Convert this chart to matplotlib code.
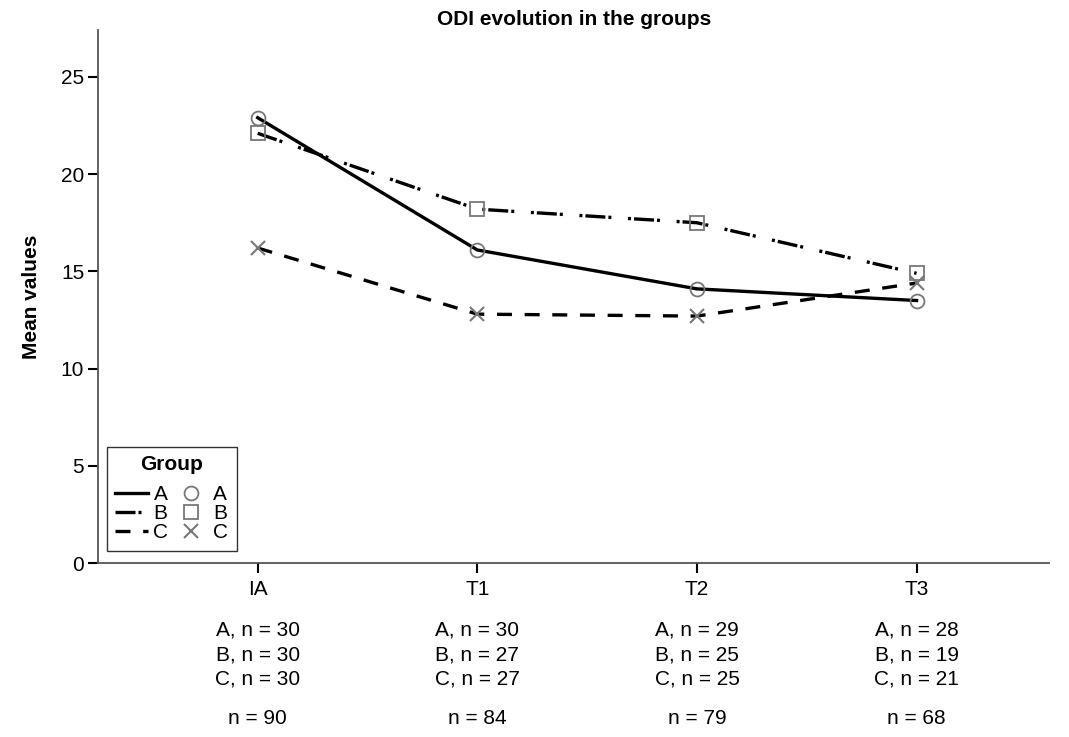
import matplotlib
matplotlib.use("Agg")
import matplotlib.pyplot as plt
from matplotlib.lines import Line2D
import matplotlib.transforms as mtransforms

plt.rcParams['font.family'] = ['Liberation Sans', 'DejaVu Sans']

categories = ["IA", "T1", "T2", "T3"]
group_a = [22.9, 16.1, 14.1, 13.5]
group_b = [22.1, 18.2, 17.5, 14.9]
group_c = [16.2, 12.8, 12.7, 14.4]
n_a = [30, 30, 29, 28]
n_b = [30, 27, 25, 19]
n_c = [30, 27, 25, 21]
n_total = [90, 84, 79, 68]
yticks = [0, 5, 10, 15, 20, 25]

fig = plt.figure(figsize=(10.69, 7.37), dpi=100)
ax = fig.add_axes([0.0917, 0.236, 0.890, 0.723])

x = list(range(len(categories)))
mcol = '#777777'
ls_b = (0, (6, 0.9, 0.9, 5.0, 0.9, 0.9))
ls_c = (0, (4.5, 3.8))
fs = 15

ax.plot(x, group_a, color='black', lw=2.4, ls='-', zorder=3)
ax.plot(x, group_b, color='black', lw=2.4, ls=ls_b, zorder=3)
ax.plot(x, group_c, color='black', lw=2.4, ls=ls_c, zorder=3)
ax.plot(x, group_a, ls='none', marker='o', ms=10, mfc='none', mec=mcol, mew=1.3, zorder=4)
ax.plot(x, group_b, ls='none', marker='s', ms=10, mfc='none', mec=mcol, mew=1.3, zorder=4)
ax.plot(x, group_c, ls='none', marker='x', ms=10, mec=mcol, mew=1.5, zorder=4)

ax.set_xlim(-0.727, 3.605)
ax.set_ylim(0, 27.4)
ax.set_xticks(x)
ax.set_xticklabels(categories)
ax.set_yticks(yticks)
ax.tick_params(axis='both', labelsize=fs, length=7, width=1.5, direction='out', colors='black')
ax.tick_params(axis='x', pad=5)
ax.tick_params(axis='y', pad=3)
for s in ['top', 'right']:
    ax.spines[s].set_visible(False)
for s in ['left', 'bottom']:
    ax.spines[s].set_color('#555555')
    ax.spines[s].set_linewidth(1.3)

ax.set_ylabel('Mean values', fontsize=fs, fontweight='bold', labelpad=14)
ax.set_title('ODI evolution in the groups', fontsize=fs, fontweight='bold', pad=4)

trans = mtransforms.blended_transform_factory(ax.transData, fig.transFigure)
for i in x:
    ax.text(i, 1 - 630/737, f"A, n = {n_a[i]}", transform=trans, ha='center', va='center', fontsize=fs)
    ax.text(i, 1 - 655/737, f"B, n = {n_b[i]}", transform=trans, ha='center', va='center', fontsize=fs)
    ax.text(i, 1 - 679/737, f"C, n = {n_c[i]}", transform=trans, ha='center', va='center', fontsize=fs)
    ax.text(i, 1 - 718/737, f"n = {n_total[i]}", transform=trans, ha='center', va='center', fontsize=fs)

handles = [
    Line2D([], [], color='black', lw=2.4, ls='-'),
    Line2D([], [], color='black', lw=2.4, ls=ls_b),
    Line2D([], [], color='black', lw=2.4, ls=ls_c),
    Line2D([], [], ls='none', marker='o', ms=10, mfc='none', mec=mcol, mew=1.3),
    Line2D([], [], ls='none', marker='s', ms=10, mfc='none', mec=mcol, mew=1.3),
    Line2D([], [], ls='none', marker='x', ms=10, mec=mcol, mew=1.5),
]
labels = ['A', 'B', 'C', 'A', 'B', 'C']
leg = ax.legend(handles, labels, ncol=2, title='Group', loc='lower left',
                bbox_to_anchor=(0.009, 0.023), fontsize=fs, title_fontsize=fs,
                handlelength=1.6, handletextpad=0.25, columnspacing=0.3,
                labelspacing=0.0, borderpad=0.4, frameon=True, fancybox=False,
                edgecolor='black', borderaxespad=0.0)
leg.get_title().set_fontweight('bold')
leg.get_frame().set_linewidth(1.0)
leg._legend_box.sep = 8

fig.savefig('out.png', dpi=100)
